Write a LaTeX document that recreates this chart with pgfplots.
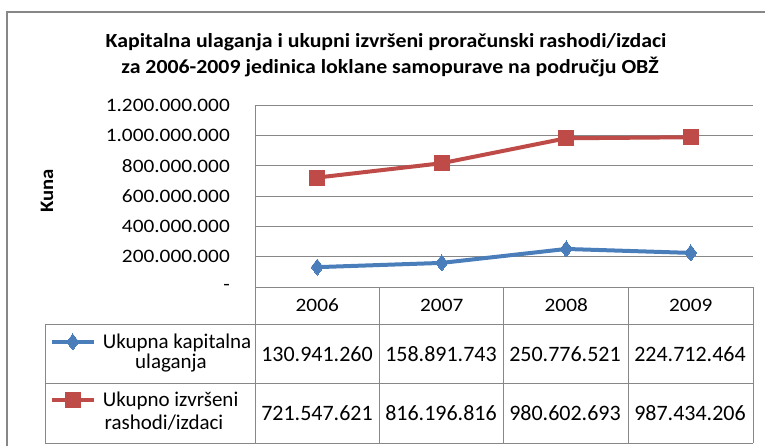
\documentclass[border=0pt]{standalone}
\usepackage{pgfplots}
\pgfplotsset{compat=1.18}
\usepackage{fontspec}
\setmainfont{Carlito}
\newfontfamily\tickfont{Carlito}[FakeStretch=1.12]
\newfontfamily\titlefont{Carlito}[FakeStretch=1.09]
\definecolor{serblue}{HTML}{4A7EBB}
\definecolor{serred}{HTML}{BE4B48}
\definecolor{gridgray}{HTML}{878787}
\begin{document}
\begin{tikzpicture}[x=1pt,y=1pt]
\useasboundingbox (0,0) rectangle (765,445);
% outer frame
\draw[gridgray, line width=1.8pt] (7,-10) -- (7,433) -- (780,433);
% title
\node[font=\titlefont\bfseries\fontsize{20}{20}\selectfont] at (386,403) {Kapitalna ulaganja i ukupni izvršeni proračunski rashodi/izdaci};
\node[font=\titlefont\bfseries\fontsize{20}{20}\selectfont] at (390,378) {za 2006-2009 jedinica loklane samopurave na području OBŽ};
\node[rotate=90, font=\titlefont\bfseries\fontsize{19}{19}\selectfont] at (47,254) {Kuna};
\begin{axis}[
  at={(255pt,158pt)}, anchor=south west,
  scale only axis, width=498pt, height=182pt,
  xmin=0.5, xmax=4.5, ymin=0, ymax=1.2e9,
  axis line style={draw=none},
  clip=false,
  ymajorgrids, grid style={gridgray, line width=1pt},
  major tick length=0pt,
  scaled y ticks=false,
  ytick={0,2e8,4e8,6e8,8e8,1e9,1.2e9},
  yticklabels={-\hspace{10pt},200.000.000,400.000.000,600.000.000,800.000.000,1.000.000.000,1.200.000.000},
  yticklabel style={anchor=east, inner sep=0pt, xshift=-25pt, font=\tickfont\fontsize{19}{19}\selectfont},
  xtick={1,2,3,4},
  xticklabels={2006,2007,2008,2009},
  xticklabel style={anchor=center, inner sep=0pt, yshift=-18.5pt, font=\tickfont\fontsize{19}{19}\selectfont},
  legend style={at={(axis description cs:-0.4125,-0.461)}, anchor=west, draw=none, fill=none,
    inner sep=0pt, row sep=38pt, font=\fontsize{21}{21}\selectfont, column sep=5pt},
  legend cell align=left,
  legend image code/.code={\draw[mark repeat=2, mark phase=2] plot coordinates {(0pt,0pt) (21pt,0pt) (42pt,0pt)};},
]
\addplot[serblue, line width=4pt, mark=diamond*, mark size=8pt, mark options={fill=serblue, line width=0pt}]
  coordinates {(1,130941260) (2,158891743) (3,250776521) (4,224712464)};
\addlegendentry{Ukupna kapitalna}
\addplot[serred, line width=4pt, mark=square*, mark size=7.5pt, mark options={fill=serred, line width=0pt}]
  coordinates {(1,721547621) (2,816196816) (3,980602693) (4,987434206)};
\addlegendentry{Ukupno izvršeni}
\end{axis}
% data table
\begin{scope}[gridgray, line width=1pt]
\draw (255,340) -- (255,2);
\draw (45,121) -- (753,121);
\draw (45,62) -- (753,62);
\draw (45,2) -- (753,2);
\draw (45,121) -- (45,2);
\foreach \xx in {379,503,628,753} \draw (\xx,158) -- (\xx,2);
\end{scope}
\begin{scope}[font=\fontsize{21}{21}\selectfont]
\node at (171,82) {ulaganja};
\node at (164,22) {rashodi/izdaci};
\end{scope}
\begin{scope}[font=\fontsize{22}{22}\selectfont]
\node at (317,91) {130.941.260};
\node at (441,91) {158.891.743};
\node at (565,91) {250.776.521};
\node at (690,91) {224.712.464};
\node at (317,32) {721.547.621};
\node at (441,32) {816.196.816};
\node at (565,32) {980.602.693};
\node at (690,32) {987.434.206};
\end{scope}
\end{tikzpicture}
\end{document}
